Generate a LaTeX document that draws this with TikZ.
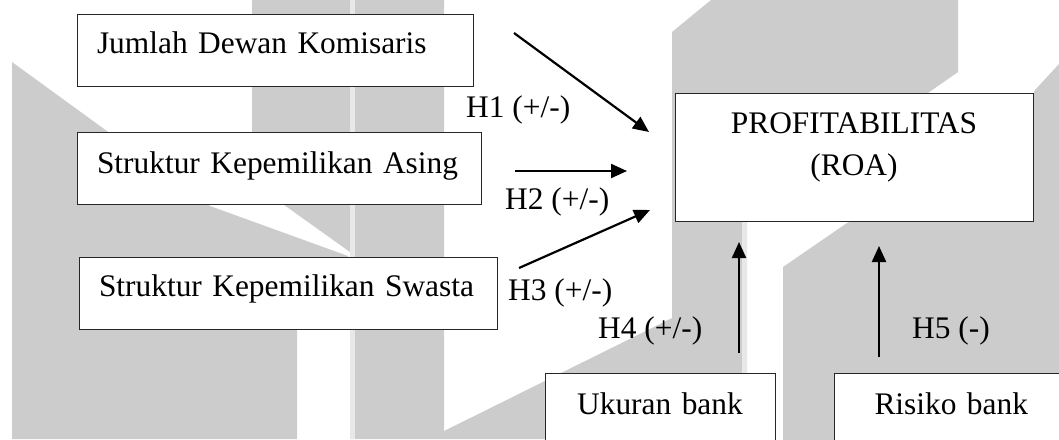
\documentclass[tikz,border=0pt]{standalone}
\usepackage{fontspec}
\setmainfont{Liberation Serif}
\usepackage{tikz}
\usetikzlibrary{arrows.meta}

\begin{document}
\begin{tikzpicture}[x=1pt, y=-1pt, every node/.style={font=\fontsize{31.4}{42}\selectfont}]
  \tikzset{
    varbox/.style={draw=black!85, line width=1pt, fill=white, inner ysep=0pt, outer sep=0pt, anchor=north west},
    hyplabel/.style={inner sep=0pt, anchor=base west},
    hyparrow/.style={-{Triangle[length=16pt,width=14pt]}, line width=2.2pt},
    shade/.style={fill=black!20, draw=none},
    stripe/.style={fill=black!9, draw=none}
  }
  \useasboundingbox (0,0) rectangle (1059,439);

  % faint logo behind the diagram
  \fill[shade] (12,62) -- (210,206) -- (348,256) -- (348,300) -- (297,300) -- (297,439) -- (12,439) -- cycle;
  \fill[shade] (252,0) -- (444,0) -- (444,439) -- (350,439) -- (350,252) -- (252,182) -- cycle;
  \fill[stripe] (350,0) rectangle (355,439);
  \fill[shade] (444,439) -- (444,431) -- (672,318) -- (672,32) -- (711,0) -- (958,0) -- (958,72)
    -- (928,93) -- (747,150) -- (747,439) -- cycle;
  \fill[stripe] (742,221) rectangle (747,373);
  \fill[shade] (783,450) -- (783,267) -- (847,223) -- (900,200) -- (1030,100) -- (1035,90)
    -- (1059,64) -- (1070,64) -- (1070,450) -- cycle;

  % independent variables
  \node[varbox, text width=356pt, inner xsep=20pt, text height=39.5pt, text depth=32.5pt, align=left] (dewan) at (77,14) {\mbox{Jumlah Dewan Komisaris}};
  \node[varbox, text width=364pt, inner xsep=20pt, text height=41.5pt, text depth=30.5pt, align=left] (asing) at (77,132) {\mbox{Struktur Kepemilikan Asing}};
  \node[varbox, text width=378pt, inner xsep=20pt, text height=39.5pt, text depth=32.5pt, align=left] (swasta) at (79,257) {\mbox{Struktur Kepemilikan Swasta}};

  % dependent variable
  \node[varbox, text width=338pt, inner xsep=10pt, text height=40pt, text depth=88pt, align=center] (roa) at (675,93) {PROFITABILITAS\\(ROA)};

  % control variables
  \node[varbox, text width=210pt, inner xsep=10pt, text height=41pt, text depth=40pt, align=center] (ukuran) at (545,373) {Ukuran bank};
  \node[varbox, text width=155pt, inner xsep=40.5pt, text height=41pt, text depth=40pt, align=left] (risiko) at (834,373) {\mbox{Risiko bank}};

  % arrow ends
  \coordinate (h1a) at (514,33);  \coordinate (h1b) at (649,132);
  \coordinate (h2a) at (515,171); \coordinate (h2b) at (627,171);
  \coordinate (h3a) at (519,268); \coordinate (h3b) at (650,210);
  \coordinate (h4a) at (739,353); \coordinate (h4b) at (739,242);
  \coordinate (h5a) at (879,357); \coordinate (h5b) at (879,246);

  \draw[hyparrow] (h1a) -- (h1b);
  \draw[hyparrow] (h2a) -- (h2b);
  \draw[hyparrow] (h3a) -- (h3b);
  \draw[hyparrow] (h4a) -- (h4b);
  \draw[hyparrow] (h5a) -- (h5b);

  % hypotheses
  \node[hyplabel] (h1) at (466,117) {H1 (+/-)};
  \node[hyplabel] (h2) at (505,209) {H2 (+/-)};
  \node[hyplabel] (h3) at (508,300) {H3 (+/-)};
  \node[hyplabel] (h4) at (598,338) {H4 (+/-)};
  \node[hyplabel] (h5) at (912,338) {H5 (-)};
\end{tikzpicture}
\end{document}
